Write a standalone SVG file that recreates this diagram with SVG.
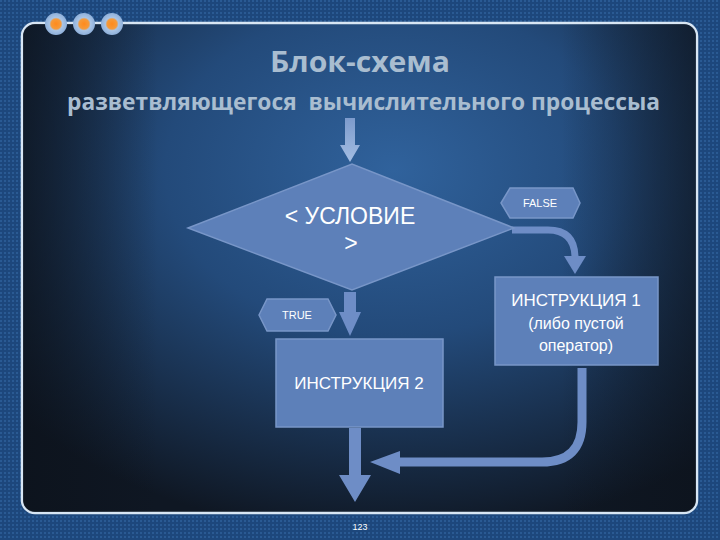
<svg xmlns="http://www.w3.org/2000/svg" width="720" height="540" viewBox="0 0 720 540">
<defs>
<pattern id="dots" width="4" height="4" patternUnits="userSpaceOnUse">
<rect width="4" height="4" fill="#1d477c"/>
<rect width="2" height="2" fill="#2a5a93"/>
</pattern>
<radialGradient id="inner" cx="0.55" cy="0.3" r="0.75">
<stop offset="0" stop-color="#30629c"/>
<stop offset="0.45" stop-color="#234a7a"/>
<stop offset="1" stop-color="#0f1723"/>
</radialGradient>
<linearGradient id="side" x1="0" y1="0" x2="1" y2="0">
<stop offset="0" stop-color="#0c121b" stop-opacity="0.7"/>
<stop offset="0.2" stop-color="#0c121b" stop-opacity="0"/>
<stop offset="0.8" stop-color="#0c121b" stop-opacity="0"/>
<stop offset="1" stop-color="#0c121b" stop-opacity="0.6"/>
</linearGradient>
<linearGradient id="toparrow" x1="0" y1="0" x2="0" y2="1">
<stop offset="0" stop-color="#7d9bcc"/>
<stop offset="1" stop-color="#a3bde3"/>
</linearGradient>
<radialGradient id="dotfill" cx="0.5" cy="0.5" r="0.5">
<stop offset="0" stop-color="#ff8a1c"/>
<stop offset="0.45" stop-color="#f59a3a"/>
<stop offset="0.6" stop-color="#a8c4e6"/>
<stop offset="1" stop-color="#8fb0da"/>
</radialGradient>
</defs>
<style>
.shape{fill:#5d80b9;stroke:#7896c8;stroke-width:1.5}
.lbl{font-family:"Liberation Sans",Arial,sans-serif;fill:#ffffff}
.title{font-family:"Open Sans","DejaVu Sans",sans-serif;font-weight:bold;fill:#a9bdd0}
.arrow{fill:#6e8dc6}
.conn{fill:none;stroke:#6e8dc6}
</style>
<rect width="720" height="540" fill="url(#dots)"/>
<rect x="22" y="23" width="675" height="490" rx="13" fill="url(#inner)" stroke="#d8e6f4" stroke-width="2.5"/>
<rect x="23" y="24" width="673" height="488" rx="12" fill="url(#side)"/>
<g id="dots-deco">
<circle cx="56" cy="24" r="11" fill="url(#dotfill)"/>
<circle cx="84" cy="24" r="11" fill="url(#dotfill)"/>
<circle cx="112" cy="24" r="11" fill="url(#dotfill)"/>
</g>
<g id="title">
<text class="title" x="360" y="72" text-anchor="middle" font-size="29" textLength="180" lengthAdjust="spacingAndGlyphs">Блок-схема</text>
<text class="title" x="67" y="110" font-size="24" textLength="593" lengthAdjust="spacingAndGlyphs" xml:space="preserve">разветвляющегося  вычислительного процессыа</text>
</g>
<g id="connectors">
<path d="M345,118 L355,118 L355,145 L360,145 L350,162 L340,145 L345,145 Z" fill="url(#toparrow)"/>
<path d="M344,292 L356,292 L356,312 L361,312 L350,336 L339,312 L344,312 Z" class="arrow"/>
<path d="M349,428 L361,428 L361,475 L371,475 L355,502 L339,475 L349,475 Z" class="arrow"/>
<path d="M512,230 L548,230 Q575,230 575,258" class="conn" stroke-width="7"/>
<path d="M564,256 L586,256 L575,274 Z" class="arrow"/>
<path d="M582,368 L582,422 Q582,462 542,462 L398,462" class="conn" stroke-width="9"/>
<path d="M400,451 L400,474 L370,462 Z" class="arrow"/>
</g>
<g id="condition">
<polygon class="shape" points="188,228 352,164 514,228 352,290"/>
<text class="lbl" x="350" y="224" text-anchor="middle" font-size="23">&lt; УСЛОВИЕ</text>
<text class="lbl" x="351" y="251" text-anchor="middle" font-size="23">&gt;</text>
</g>
<g id="false">
<polygon class="shape" points="501,203 510,188 573,188 580,203 573,218 510,218"/>
<text class="lbl" x="540" y="207" text-anchor="middle" font-size="11">FALSE</text>
</g>
<g id="true">
<polygon class="shape" points="259,315 267,299 328,299 336,315 328,331 267,331"/>
<text class="lbl" x="297" y="319" text-anchor="middle" font-size="11">TRUE</text>
</g>
<g id="instr1">
<rect class="shape" x="495" y="277" width="163" height="88"/>
<text class="lbl" x="576" y="306" text-anchor="middle" font-size="17">ИНСТРУКЦИЯ 1</text>
<text class="lbl" x="576" y="329" text-anchor="middle" font-size="16">(либо пустой</text>
<text class="lbl" x="576" y="351" text-anchor="middle" font-size="16">оператор)</text>
</g>
<g id="instr2">
<rect class="shape" x="276" y="339" width="167" height="88"/>
<text class="lbl" x="359" y="389" text-anchor="middle" font-size="17">ИНСТРУКЦИЯ 2</text>
</g>
<text class="lbl" x="360" y="530" text-anchor="middle" font-size="9" fill="#c8d8ea">123</text>
</svg>
